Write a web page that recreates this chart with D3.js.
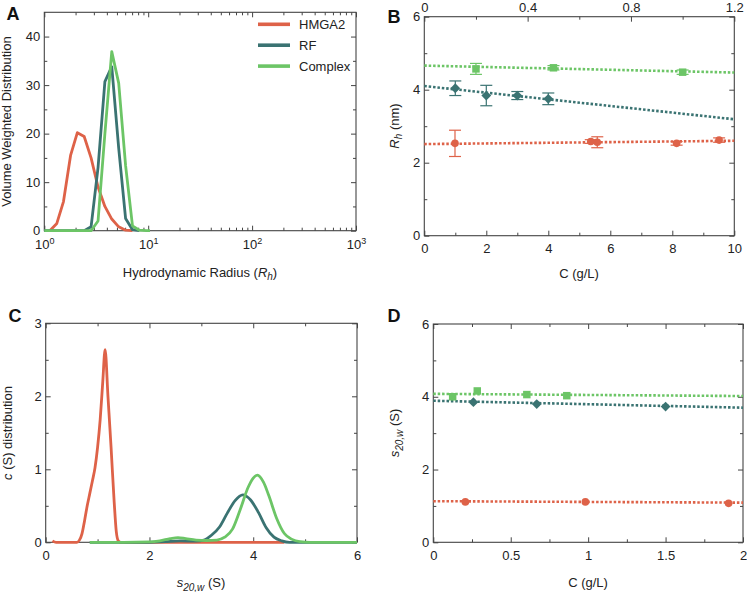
<!DOCTYPE html>
<html><head><meta charset="utf-8">
<script src="https://cdn.jsdelivr.net/npm/d3@7"></script>
<style>
body{margin:0;background:#fff}
svg{display:block;font-family:"Liberation Sans",Arial,Helvetica,sans-serif}
</style></head><body>
<svg id="chart" width="747" height="592"></svg>
<script>
// ---------------- DATA ----------------
const seriesNames = ["HMGA2", "RF", "Complex"];

// Panel A: DLS volume-weighted distribution
const rhBins     = [1.00, 1.13, 1.32, 1.53, 1.79, 2.08, 2.42, 2.82, 3.29, 3.83, 4.46, 5.20, 6.06, 7.06, 8.22, 9.58, 10.4];
const hmga2Vol   = [null, 0,    1.5,  6.0,  15.5, 20.2, 19.4, 15.0, 9.0,  5.0,  2.4,  0.8,  0.1,  0,    null, null, null];
const rfVol      = [0,    0,    0,    0,    0,    0,    0,    0.8,  13.0, 30.7, 33.8, 17.0, 2.5,  0.2,  0,    null, null];
const complexVol = [0,    0,    0,    0,    0,    0,    0,    0,    2.0,  20.0, 36.9, 30.4, 13.4, 1.0,  0.1,  0,    0];
const rhMajorTicks = [1, 10, 100, 1000];
const volTicks = [0, 10, 20, 30, 40];

// Panel B: Rh vs concentration
const rhHmgaConc = [0.99, 5.37, 5.58, 8.14, 9.51];
const rhHmga     = [2.53, 2.58, 2.56, 2.53, 2.62];
const rhHmgaErr  = [0.36, 0.05, 0.15, 0.05, 0.06];
const rhRfConc   = [1.0, 2.0, 3.0, 4.0];
const rhRf       = [4.04, 3.84, 3.84, 3.75];
const rhRfErr    = [0.20, 0.28, 0.11, 0.16];
const rhComplexConc = [0.2, 0.5, 1.0];          // top axis
const rhComplex     = [4.57, 4.60, 4.48];
const rhComplexErr  = [0.15, 0.06, 0.06];
const rhFitX       = [0, 10];
const rhFitHmga    = [2.51, 2.60];
const rhFitRf      = [4.10, 3.19];
const rhFitComplexX = [0, 1.2];
const rhFitComplex = [4.66, 4.47];

// Panel C: c(s) distributions [s, c(s)]
const hmga2CS = [[0.13,0.02],[0.2,0],[0.6,0],[0.65,0.03],[0.7,0.12],[0.75,0.3],[0.8,0.5],[0.85,0.67],[0.9,0.84],[0.95,1.02],[1.0,1.3],[1.05,1.68],[1.1,2.2],[1.145,2.64],[1.2,2.0],[1.26,1.3],[1.32,0.55],[1.36,0.15],[1.4,0.02],[1.45,0],[4.6,0]];
const rfCS = [[0.85,0],[2.0,0],[2.3,0.01],[2.6,0.02],[2.9,0.015],[3.05,0.03],[3.2,0.1],[3.35,0.21],[3.5,0.4],[3.65,0.57],[3.8,0.65],[3.95,0.58],[4.1,0.41],[4.25,0.2],[4.4,0.07],[4.55,0.02],[4.7,0],[6,0]];
const complexCS = [[0.85,0],[1.5,0],[2.0,0.005],[2.2,0.02],[2.4,0.05],[2.55,0.065],[2.7,0.05],[2.9,0.03],[3.1,0.025],[3.3,0.03],[3.45,0.07],[3.6,0.18],[3.75,0.45],[3.9,0.75],[4.0,0.88],[4.08,0.92],[4.2,0.82],[4.3,0.64],[4.45,0.33],[4.6,0.12],[4.75,0.04],[4.9,0.01],[5.1,0],[6,0]];

// Panel D: s20,w vs concentration
const sHmgaConc    = [0.207, 0.982, 1.907];
const sHmga        = [1.11, 1.11, 1.07];
const sRfConc      = [0.259, 0.668, 1.50];
const sRf          = [3.85, 3.80, 3.73];
const sComplexConc = [0.125, 0.284, 0.604, 0.862];
const sComplex     = [4.00, 4.16, 4.06, 4.03];
const sFitX        = [0, 2];
const sFitHmga     = [1.13, 1.09];
const sFitRf       = [3.89, 3.70];
const sFitComplex  = [4.08, 4.02];

// ---------------- STYLE ----------------
const FONT = '"Liberation Sans", Arial, Helvetica, sans-serif';
const COLORS = {HMGA2: "#DE6248", RF: "#3A7372", Complex: "#6CC566"};
const FRAME = "#444";
const svg = d3.select("#chart");

function addAxes(g, xs, ys, cfg) {
  const [x0, x1] = xs.range();
  const [y1, y0] = ys.range();
  g.append("rect").attr("x", x0).attr("y", y0).attr("width", x1 - x0).attr("height", y1 - y0)
    .attr("fill", "none").attr("stroke", FRAME).attr("stroke-width", 1.1);
  const add = (axis, tr) => {
    const a = g.append("g").attr("transform", tr).call(axis);
    a.select(".domain").remove();
    a.selectAll("line").attr("stroke", FRAME).attr("stroke-width", 1);
    a.selectAll("text").attr("font-size", 13).attr("fill", "#222").attr("font-family", FONT);
    return a;
  };
  const out = {};
  out.bottom = add(d3.axisBottom(xs).tickValues(cfg.xMajor).tickSize(-5).tickPadding(cfg.xPad || 8).tickFormat(cfg.xFmt), `translate(0,${y1})`);
  add(d3.axisBottom(xs).tickValues(cfg.xMinor).tickSize(-3).tickFormat(""), `translate(0,${y1})`);
  const ts = cfg.topScale || xs;
  out.top = add(d3.axisTop(ts).tickValues(cfg.topMajor || cfg.xMajor).tickSize(-5).tickPadding(5).tickFormat(cfg.topFmt || ""), `translate(0,${y0})`);
  add(d3.axisTop(ts).tickValues(cfg.topMinor || cfg.xMinor).tickSize(-3).tickFormat(""), `translate(0,${y0})`);
  add(d3.axisLeft(ys).tickValues(cfg.yMajor).tickSize(-5).tickPadding(4).tickFormat(cfg.yFmt), `translate(${x0},0)`);
  add(d3.axisLeft(ys).tickValues(cfg.yMinor).tickSize(-3).tickFormat(""), `translate(${x0},0)`);
  add(d3.axisRight(ys).tickValues(cfg.yMajor).tickSize(-5).tickFormat(""), `translate(${x1},0)`);
  add(d3.axisRight(ys).tickValues(cfg.yMinor).tickSize(-3).tickFormat(""), `translate(${x1},0)`);
  return out;
}

function panelLabel(txt, x, y) {
  svg.append("text").attr("x", x).attr("y", y).attr("text-anchor", "middle")
    .attr("font-size", 18).attr("font-weight", "bold").attr("font-family", FONT).attr("fill", "#111").text(txt);
}

function xTitle(x, y) {
  return svg.append("text").attr("x", x).attr("y", y).attr("text-anchor", "middle")
    .attr("font-size", 13).attr("font-family", FONT).attr("fill", "#222");
}
function yTitle(x, y) {
  return svg.append("text").attr("transform", `translate(${x},${y}) rotate(-90)`).attr("text-anchor", "middle")
    .attr("font-size", 13).attr("font-family", FONT).attr("fill", "#222");
}
function sub20w(t) {
  t.append("tspan").attr("font-style", "italic").text("s");
  t.append("tspan").attr("font-style", "italic").attr("font-size", 10).attr("dy", 3.5).text("20,w");
  t.append("tspan").attr("dy", -3.5).text(" (S)");
}

const fmt = d => String(d);

// ---------------- PANEL A ----------------
{
  const g = svg.append("g");
  const xs = d3.scaleLog().domain([1, 1000]).range([44.3, 356]);
  const ys = d3.scaleLinear().domain([0, 45]).range([230.7, 12.3]);
  const minor = [];
  [1, 10, 100].forEach(dec => { for (let k = 2; k <= 9; k++) minor.push(dec * k); });
  const ax = addAxes(g, xs, ys, {
    xMajor: rhMajorTicks, xMinor: minor, xFmt: () => "", xPad: 9.5,
    yMajor: volTicks, yMinor: [5, 15, 25, 35], yFmt: fmt
  });
  ax.bottom.selectAll(".tick text").each(function(d) {
    const t = d3.select(this);
    t.text("10");
    t.append("tspan").attr("font-size", 9).attr("dy", -5.5).text(Math.round(Math.log10(d)));
  });
  const series = [[hmga2Vol, "HMGA2"], [rfVol, "RF"], [complexVol, "Complex"]];
  const line = d3.line().defined(d => d[1] != null).x(d => xs(d[0])).y(d => ys(d[1]));
  series.forEach(([vals, name]) => {
    g.append("path").datum(rhBins.map((b, i) => [b, vals[i]]))
      .attr("d", line).attr("fill", "none").attr("stroke", COLORS[name])
      .attr("stroke-width", 2.8).attr("stroke-linejoin", "round");
  });
  // legend
  const lg = g.append("g");
  seriesNames.forEach((name, i) => {
    const yy = 24.3 + i * 20.9;
    lg.append("line").attr("x1", 258).attr("x2", 290).attr("y1", yy).attr("y2", yy)
      .attr("stroke", COLORS[name]).attr("stroke-width", 3.6);
    lg.append("text").attr("x", 299).attr("y", yy + 4.7).attr("font-size", 13)
      .attr("font-family", FONT).attr("fill", "#222").text(name);
  });
  const xt = xTitle(200, 276.5);
  xt.append("tspan").text("Hydrodynamic Radius (");
  xt.append("tspan").attr("font-style", "italic").text("R");
  xt.append("tspan").attr("font-style", "italic").attr("font-size", 10).attr("dy", 3).text("h");
  xt.append("tspan").attr("dy", -3).text(")");
  yTitle(11, 121.5).text("Volume Weighted Distribution");
  panelLabel("A", 13, 19.5);
}

// ---------------- helpers for B, D ----------------
function scatter(g, xs, ys, conc, vals, errs, color, shape) {
  const pts = conc.map((c, i) => ({x: c, y: vals[i], e: errs ? errs[i] : 0}));
  if (errs) {
    const eg = g.append("g").attr("stroke", color).attr("stroke-width", 1.2);
    pts.forEach(p => {
      if (p.e <= 0) return;
      const cx = xs(p.x), ya = ys(p.y + p.e), yb = ys(p.y - p.e);
      eg.append("line").attr("x1", cx).attr("x2", cx).attr("y1", ya).attr("y2", yb);
      eg.append("line").attr("x1", cx - 6).attr("x2", cx + 6).attr("y1", ya).attr("y2", ya);
      eg.append("line").attr("x1", cx - 6).attr("x2", cx + 6).attr("y1", yb).attr("y2", yb);
    });
  }
  const sym = shape === "circle" ? d3.symbol(d3.symbolCircle, 46)
            : shape === "square" ? d3.symbol(d3.symbolSquare, 56)
            : d3.symbol(d3.symbolSquare, 48);
  g.append("g").selectAll("path").data(pts).enter().append("path")
    .attr("d", sym)
    .attr("transform", d => `translate(${xs(d.x)},${ys(d.y)})${shape === "diamond" ? " rotate(45)" : ""}`)
    .attr("fill", color);
}
function fitLine(g, xs, ys, fx, fy, color) {
  g.append("path").datum(fx.map((x, i) => [x, fy[i]]))
    .attr("d", d3.line().x(d => xs(d[0])).y(d => ys(d[1])))
    .attr("fill", "none").attr("stroke", color).attr("stroke-width", 2.6)
    .attr("stroke-dasharray", "2.5,1.9");
}

// ---------------- PANEL B ----------------
{
  const g = svg.append("g");
  const xs = d3.scaleLinear().domain([0, 10]).range([424.3, 734.3]);
  const xt = d3.scaleLinear().domain([0, 1.2]).range([424.3, 734.3]);
  const ys = d3.scaleLinear().domain([0, 6]).range([235.7, 16.7]);
  addAxes(g, xs, ys, {
    xMajor: [0, 2, 4, 6, 8, 10], xMinor: [1, 3, 5, 7, 9], xFmt: fmt,
    topScale: xt, topMajor: [0, 0.4, 0.8, 1.2], topMinor: [0.2, 0.6, 1.0], topFmt: fmt,
    yMajor: [0, 2, 4, 6], yMinor: [1, 3, 5], yFmt: fmt
  });
  fitLine(g, xs, ys, rhFitX, rhFitHmga, COLORS.HMGA2);
  fitLine(g, xs, ys, rhFitX, rhFitRf, COLORS.RF);
  fitLine(g, xt, ys, rhFitComplexX, rhFitComplex, COLORS.Complex);
  scatter(g, xs, ys, rhHmgaConc, rhHmga, rhHmgaErr, COLORS.HMGA2, "circle");
  scatter(g, xs, ys, rhRfConc, rhRf, rhRfErr, COLORS.RF, "diamond");
  scatter(g, xt, ys, rhComplexConc, rhComplex, rhComplexErr, COLORS.Complex, "square");
  xTitle(579, 277.5).text("C (g/L)");
  const yt = yTitle(399, 126);
  yt.append("tspan").attr("font-style", "italic").text("R");
  yt.append("tspan").attr("font-style", "italic").attr("font-size", 10).attr("dy", 3).text("h");
  yt.append("tspan").attr("dy", -3).text(" (nm)");
  panelLabel("B", 394, 23);
}

// ---------------- PANEL C ----------------
{
  const g = svg.append("g");
  const xs = d3.scaleLinear().domain([0, 6]).range([45.7, 357]);
  const ys = d3.scaleLinear().domain([0, 3]).range([542.3, 323.3]);
  addAxes(g, xs, ys, {
    xMajor: [0, 2, 4, 6], xMinor: [1, 3, 5], xFmt: fmt,
    yMajor: [0, 1, 2, 3], yMinor: [0.5, 1.5, 2.5], yFmt: fmt
  });
  const line = d3.line().curve(d3.curveMonotoneX).x(d => xs(d[0])).y(d => ys(d[1]));
  [[hmga2CS, "HMGA2"], [rfCS, "RF"], [complexCS, "Complex"]].forEach(([pts, name]) => {
    g.append("path").datum(pts).attr("d", line).attr("fill", "none")
      .attr("stroke", COLORS[name]).attr("stroke-width", 2.8).attr("stroke-linejoin", "round");
  });
  sub20w(xTitle(201, 587));
  const yt = yTitle(12, 433);
  yt.append("tspan").attr("font-style", "italic").text("c");
  yt.append("tspan").text(" (S) distribution");
  panelLabel("C", 15, 321.5);
}

// ---------------- PANEL D ----------------
{
  const g = svg.append("g");
  const xs = d3.scaleLinear().domain([0, 2]).range([433.3, 743]);
  const ys = d3.scaleLinear().domain([0, 6]).range([542.3, 324]);
  addAxes(g, xs, ys, {
    xMajor: [0, 0.5, 1, 1.5, 2], xMinor: [0.25, 0.75, 1.25, 1.75], xFmt: fmt,
    yMajor: [0, 2, 4, 6], yMinor: [1, 3, 5], yFmt: fmt
  });
  fitLine(g, xs, ys, sFitX, sFitHmga, COLORS.HMGA2);
  fitLine(g, xs, ys, sFitX, sFitRf, COLORS.RF);
  fitLine(g, xs, ys, sFitX, sFitComplex, COLORS.Complex);
  scatter(g, xs, ys, sHmgaConc, sHmga, null, COLORS.HMGA2, "circle");
  scatter(g, xs, ys, sRfConc, sRf, null, COLORS.RF, "diamond");
  scatter(g, xs, ys, sComplexConc, sComplex, null, COLORS.Complex, "square");
  xTitle(588, 587).text("C (g/L)");
  sub20w(yTitle(399, 433));
  panelLabel("D", 394, 322);
}
</script>
</body></html>
